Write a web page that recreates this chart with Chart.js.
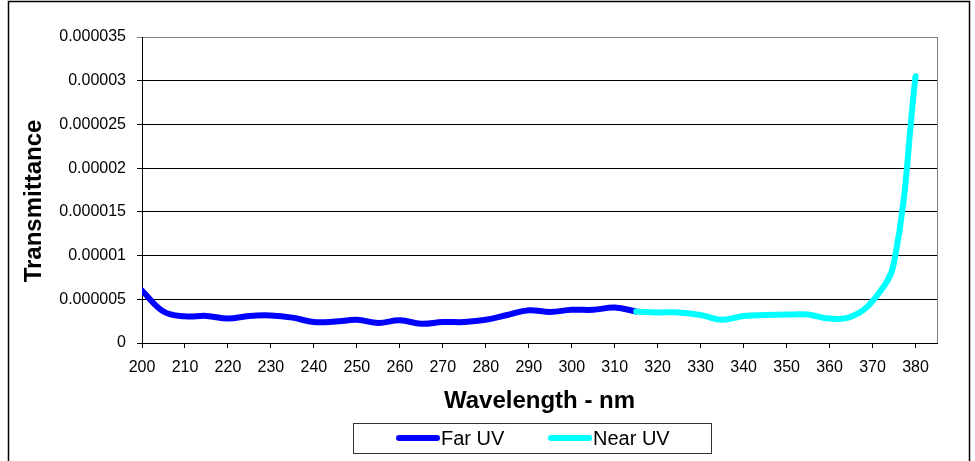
<!DOCTYPE html>
<html>
<head>
<meta charset="utf-8">
<title>Transmittance</title>
<script src="https://cdn.jsdelivr.net/npm/chart.js@4.4.1/dist/chart.umd.min.js"></script>
<style>
  html, body { margin: 0; padding: 0; background: #fff; }
  canvas { display: block; }
</style>
</head>
<body>
<canvas id="chart" width="975" height="461"></canvas>
<script>
// Transmittance readings every 5 nm
const farWavelengths = [200, 205, 210, 215, 220, 225, 230, 235, 240, 245, 250, 255,
  260, 265, 270, 275, 280, 285, 290, 295, 300, 305, 310, 315];
const farValues = [6.0e-6, 3.6e-6, 3.05e-6, 3.1e-6, 2.8e-6, 3.1e-6, 3.15e-6, 2.9e-6,
  2.4e-6, 2.45e-6, 2.65e-6, 2.3e-6, 2.6e-6, 2.2e-6, 2.4e-6, 2.4e-6, 2.65e-6, 3.2e-6,
  3.75e-6, 3.55e-6, 3.8e-6, 3.8e-6, 4.05e-6, 3.6e-6];

const nearWavelengths = [315, 320, 325, 330, 335, 340, 345, 350, 355, 360, 365, 370, 375, 380];
const nearValues = [3.6e-6, 3.5e-6, 3.5e-6, 3.2e-6, 2.65e-6, 3.1e-6, 3.2e-6, 3.25e-6,
  3.25e-6, 2.8e-6, 3.0e-6, 4.8e-6, 9.2e-6, 30.5e-6];

const seriesNames = ["Far UV", "Near UV"];
const seriesColors = ["#0000ff", "#00ffff"];

const xTickValues = [200, 210, 220, 230, 240, 250, 260, 270, 280, 290, 300, 310, 320,
  330, 340, 350, 360, 370, 380];
const yTickValues = [0, 0.000005, 0.00001, 0.000015, 0.00002, 0.000025, 0.00003, 0.000035];
const yTickLabels = ["0", "0.000005", "0.00001", "0.000015", "0.00002", "0.000025", "0.00003", "0.000035"];

const xTitle = "Wavelength - nm";
const yTitle = "Transmittance";

const FONT = '"Liberation Sans", Arial, sans-serif';

const toPoints = (xs, ys) => xs.map((x, i) => ({ x: x, y: ys[i] }));

// frame, plot edge, axis titles and boxed legend
const decorations = {
  id: "decorations",
  beforeDraw(chart) {
    const ctx = chart.ctx;
    ctx.save();
    ctx.fillStyle = "#fff";
    ctx.fillRect(0, 0, chart.width, chart.height);
    ctx.restore();
  },
  afterDraw(chart) {
    const ctx = chart.ctx;
    const a = chart.chartArea;
    ctx.save();

    // right edge of plot area
    ctx.strokeStyle = "#808080";
    ctx.lineWidth = 1;
    ctx.beginPath();
    ctx.moveTo(Math.round(a.right) + 0.5, a.top);
    ctx.lineTo(Math.round(a.right) + 0.5, a.bottom);
    ctx.stroke();

    // outer chart border
    ctx.strokeStyle = "#000";
    ctx.lineWidth = 1.5;
    ctx.strokeRect(8.5, 1.5, 961, 480);

    // axis titles
    ctx.fillStyle = "#000";
    ctx.font = "bold 24px " + FONT;
    ctx.textAlign = "center";
    ctx.textBaseline = "alphabetic";
    ctx.fillText(xTitle, (a.left + a.right) / 2, 408);

    ctx.save();
    ctx.translate(41, 201);
    ctx.rotate(-Math.PI / 2);
    ctx.fillText(yTitle, 0, 0);
    ctx.restore();

    // legend box
    ctx.strokeStyle = "#333";
    ctx.lineWidth = 1;
    ctx.strokeRect(353.5, 423.5, 358, 30);

    const itemX = [396, 548];
    const cy = 438;
    ctx.font = "20px " + FONT;
    ctx.textAlign = "left";
    ctx.textBaseline = "middle";
    chart.data.datasets.forEach((ds, i) => {
      const x0 = itemX[i];
      ctx.strokeStyle = ds.borderColor;
      ctx.lineWidth = 6;
      ctx.lineCap = "round";
      ctx.beginPath();
      ctx.moveTo(x0 + 3, cy);
      ctx.lineTo(x0 + 41, cy);
      ctx.stroke();
      ctx.fillStyle = "#000";
      ctx.fillText(ds.label, x0 + 45, cy + 1);
    });

    ctx.restore();
  }
};

new Chart(document.getElementById("chart"), {
  type: "line",
  data: {
    datasets: [
      {
        label: seriesNames[0],
        data: toPoints(farWavelengths, farValues),
        borderColor: seriesColors[0],
        backgroundColor: seriesColors[0],
        borderWidth: 6,
        borderCapStyle: "round",
        borderJoinStyle: "round",
        pointRadius: 0,
        tension: 0.4,
        order: 1
      },
      {
        label: seriesNames[1],
        data: toPoints(nearWavelengths, nearValues),
        borderColor: seriesColors[1],
        backgroundColor: seriesColors[1],
        borderWidth: 6,
        borderCapStyle: "round",
        borderJoinStyle: "round",
        pointRadius: 0,
        tension: 0.4,
        order: 0
      }
    ]
  },
  options: {
    responsive: false,
    devicePixelRatio: 1,
    animation: false,
    layout: { padding: { left: 0, top: 37, right: 38, bottom: 0 } },
    plugins: {
      legend: { display: false },
      tooltip: { enabled: false }
    },
    scales: {
      x: {
        type: "linear",
        min: 200,
        max: 385,
        afterBuildTicks: scale => { scale.ticks = xTickValues.map(v => ({ value: v })); },
        afterFit: scale => { scale.height = 118; },
        ticks: {
          color: "#000",
          font: { family: FONT, size: 16 },
          padding: 10,
          maxRotation: 0,
          autoSkip: false,
          callback: v => String(v)
        },
        grid: { drawOnChartArea: false, drawTicks: true, tickLength: 5, color: "#000" },
        border: { display: true, color: "#000", width: 1 }
      },
      y: {
        type: "linear",
        min: 0,
        max: 0.000035,
        afterBuildTicks: scale => { scale.ticks = yTickValues.map(v => ({ value: v })); },
        afterFit: scale => { scale.width = 142; },
        ticks: {
          color: "#000",
          font: { family: FONT, size: 16 },
          padding: 11,
          callback: (v, i) => yTickLabels[i]
        },
        grid: {
          drawTicks: true,
          tickLength: 5,
          color: ctx => (ctx.tick && ctx.tick.value === 0.000035 ? "#808080" : "#000")
        },
        border: { display: true, color: "#000", width: 1 }
      }
    }
  },
  plugins: [decorations]
});
</script>
</body>
</html>
